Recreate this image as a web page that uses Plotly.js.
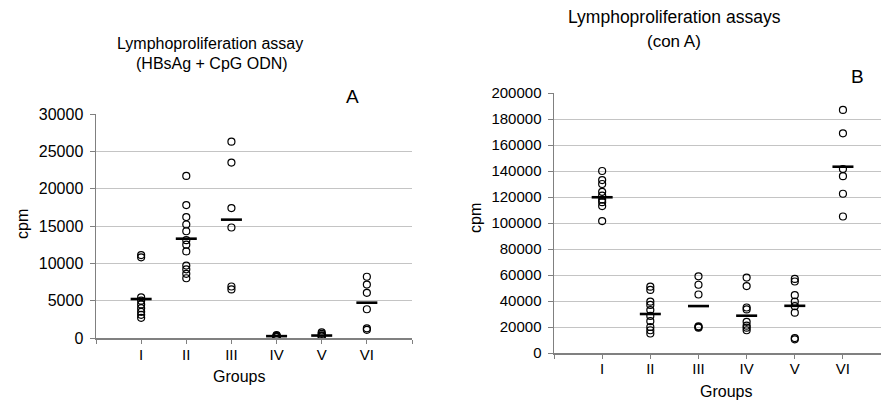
<!DOCTYPE html>
<html>
<head>
<meta charset="utf-8">
<script src="https://cdn.plot.ly/plotly-3.0.1.min.js"></script>
<style>
  html, body { margin: 0; padding: 0; background: #fff; }
  #chart { width: 881px; height: 403px; }
</style>
</head>
<body>
<div id="chart"></div>
<script>
// Group labels shared by both panels
const groups = ['I', 'II', 'III', 'IV', 'V', 'VI'];

// Panel A: HBsAg + CpG ODN stimulation (cpm per animal)
const cpgI   = [11100, 10800, 5450, 5000, 4500, 4000, 3500, 3100, 2700];
const cpgII  = [21700, 17800, 16200, 15200, 14300, 13100, 12500, 11600, 9700, 9200, 8600, 8000];
const cpgIII = [26300, 23500, 17400, 14800, 6900, 6500];
const cpgIV  = [400, 300, 250, 150, 100];
const cpgV   = [750, 550, 350, 250, 200];
const cpgVI  = [8200, 7150, 6050, 3850, 1300, 1100];
const cpgMeans = [5220, 13300, 15850, 250, 330, 4730];

// Panel B: con A stimulation (cpm per animal)
const conI   = [140000, 133000, 130000, 124000, 121000, 118000, 116000, 113000, 101500];
const conII  = [51000, 48500, 39500, 37000, 33000, 28500, 24500, 20000, 17500, 15000];
const conIII = [59000, 52500, 45000, 20500, 20000, 19500];
const conIV  = [58000, 51500, 35000, 33500, 24000, 21000, 19500, 17500];
const conV   = [57000, 55000, 44500, 39500, 36000, 31000, 11500, 10500];
const conVI  = [187000, 169000, 141500, 136000, 122500, 105000];
const conMeans = [119800, 30000, 36100, 28700, 36300, 143300];

const W = 881, H = 403;
const px = x => x / W;
const py = y => 1 - y / H;
const FONT = 'Liberation Sans, Arial, sans-serif';

function pointTraces(sets, xa, ya) {
  return sets.map((vals, i) => ({
    type: 'scatter', mode: 'markers',
    x: vals.map(() => i + 1), y: vals,
    xaxis: xa, yaxis: ya,
    marker: { symbol: 'circle-open', size: 7, color: '#000', line: { width: 1.2, color: '#000' } },
    hoverinfo: 'y', showlegend: false
  }));
}

function meanTrace(means, xa, ya) {
  return {
    type: 'scatter', mode: 'markers',
    x: means.map((_, i) => i + 1), y: means,
    xaxis: xa, yaxis: ya,
    marker: { symbol: 'line-ew', size: 15, color: '#000', line: { width: 2.6, color: '#000' } },
    hoverinfo: 'y', showlegend: false
  };
}

const traces = [
  ...pointTraces([cpgI, cpgII, cpgIII, cpgIV, cpgV, cpgVI], 'x', 'y'),
  meanTrace(cpgMeans, 'x', 'y'),
  ...pointTraces([conI, conII, conIII, conIV, conV, conVI], 'x2', 'y2'),
  meanTrace(conMeans, 'x2', 'y2')
];

const catTicks = [0, 1, 2, 3, 4, 5, 6, 7];
const catText = ['', ...groups, ''];

function xAxis(domain, range, size, standoff) {
  return {
    domain: domain, range: range,
    tickmode: 'array', tickvals: catTicks, ticktext: catText,
    ticks: 'outside', ticklen: 4, tickwidth: 1, tickcolor: '#808080',
    showline: true, linecolor: '#808080', linewidth: 1.5,
    showgrid: false, zeroline: false,
    tickfont: { family: FONT, size: size, color: '#000' },
    ticklabelstandoff: standoff, fixedrange: true
  };
}

function yAxis(domain, range, dtick, size, anchor) {
  return {
    domain: domain, range: range, dtick: dtick, tick0: 0,
    anchor: anchor, tickformat: 'd',
    ticks: 'outside', ticklen: 5, tickwidth: 1, tickcolor: '#808080',
    showline: true, linecolor: '#808080', linewidth: 1.5,
    showgrid: true, gridcolor: '#c4c4c4', gridwidth: 1,
    zeroline: false,
    tickfont: { family: FONT, size: size, color: '#000' },
    ticklabelstandoff: 3, fixedrange: true
  };
}

function note(text, x, y, size, angle) {
  return {
    text: text, xref: 'paper', yref: 'paper',
    x: px(x), y: py(y), xanchor: 'center', yanchor: 'middle',
    showarrow: false, textangle: angle || 0,
    font: { family: FONT, size: size, color: '#000' }
  };
}

const layout = {
  width: W, height: H,
  margin: { l: 0, r: 0, t: 0, b: 0 },
  paper_bgcolor: '#fff', plot_bgcolor: '#fff',
  showlegend: false,
  xaxis:  Object.assign(xAxis([px(96), px(412)], [0, 7], 15, -2), { anchor: 'y' }),
  yaxis:  yAxis([py(338), py(114)], [0, 30000], 5000, 16, 'x'),
  xaxis2: Object.assign(xAxis([px(554), 1], [0, 6.79], 15, -3), { anchor: 'y2' }),
  yaxis2: yAxis([py(353), py(93)], [0, 200000], 20000, 15, 'x2'),
  annotations: [
    note('Lymphoproliferation assay', 210, 43, 16),
    note('(HBsAg + CpG ODN)', 212, 63, 16),
    note('A', 352, 97, 19),
    note('cpm', 22, 224, 16, -90),
    note('Groups', 239, 376, 16),
    note('Lymphoproliferation assays', 674, 17, 17.5),
    note('(con A)', 674, 42, 17),
    note('B', 857, 76, 19),
    note('cpm', 475, 218, 16, -90),
    note('Groups', 726, 391, 16)
  ]
};

Plotly.newPlot('chart', traces, layout, { displayModeBar: false, staticPlot: true });
</script>
</body>
</html>
